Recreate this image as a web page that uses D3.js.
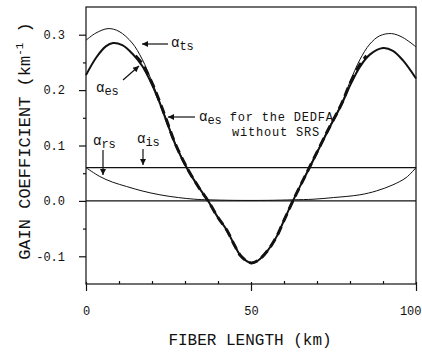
<!DOCTYPE html>
<html>
<head>
<meta charset="utf-8">
<script src="https://cdn.jsdelivr.net/npm/d3@7"></script>
<style>
  body { margin: 0; background: #fff; }
  text { font-family: "Liberation Mono", monospace; fill: #111; }
</style>
</head>
<body>
<svg id="chart" width="422" height="356"></svg>
<script>
// values (km, 1/km)
const tsKm  = [0, 3, 6.7, 10, 14, 17, 20, 22.4, 24.4, 27, 30.5, 34, 37, 40, 42.6, 45, 47, 50, 52, 55, 57.8, 60, 62.7, 65, 68, 73, 77.5, 80, 83, 86, 89, 92.6, 96, 100];
const tsVal = [0.290, 0.303, 0.311, 0.306, 0.285, 0.256, 0.215, 0.178, 0.146, 0.105, 0.062, 0.027, 0.0, -0.030, -0.052, -0.080, -0.100, -0.112, -0.108, -0.090, -0.064, -0.035, 0.0, 0.028, 0.065, 0.125, 0.177, 0.215, 0.255, 0.283, 0.298, 0.302, 0.295, 0.278];

const esKm  = [0, 3, 6, 8.2, 11, 14, 17, 20, 22.4, 24.4, 27, 30.5, 34, 37, 40, 42.6, 45, 47, 50, 52, 55, 57.8, 60, 62.7, 65, 68, 73, 77.5, 80, 83, 86, 90, 93, 96, 100];
const esVal = [0.227, 0.258, 0.279, 0.285, 0.281, 0.266, 0.244, 0.210, 0.176, 0.144, 0.103, 0.060, 0.026, 0.0, -0.030, -0.052, -0.080, -0.100, -0.112, -0.108, -0.090, -0.064, -0.035, 0.0, 0.028, 0.063, 0.123, 0.175, 0.208, 0.242, 0.264, 0.276, 0.271, 0.254, 0.221];

// alpha_es for the DEDFA without SRS (dashed)
const noSrsKm  = [15, 17, 20, 22.4, 24.4, 27, 30.5, 34, 37, 40, 42.6, 45, 47, 50, 52, 55, 57.8, 60, 62.7, 65, 68, 73, 77.5, 80, 83, 85];
const noSrsVal = [0.262, 0.248, 0.213, 0.178, 0.146, 0.104, 0.061, 0.026, 0.0, -0.030, -0.052, -0.080, -0.100, -0.112, -0.108, -0.090, -0.064, -0.035, 0.0, 0.028, 0.064, 0.124, 0.176, 0.212, 0.246, 0.262];

const rsKm  = [0, 4.2, 8, 12.3, 17, 22.4, 28, 33, 37, 45, 55, 63, 68.8, 75, 83, 88, 93, 97, 100];
const rsVal = [0.060, 0.044, 0.034, 0.026, 0.018, 0.011, 0.006, 0.003, 0.002, 0.001, 0.001, 0.002, 0.003, 0.006, 0.011, 0.018, 0.029, 0.042, 0.060];

const isKm  = [0, 100];
const isVal = [0.06, 0.06];

const zeroKm  = [0, 100];
const zeroVal = [0, 0];

const yMajor = [-0.1, 0.0, 0.1, 0.2, 0.3];
const yMinor = [-0.05, 0.05, 0.15, 0.25];
const xMajor = [0, 50, 100];
const xMinor = [10, 20, 30, 40, 60, 70, 80, 90];

const svg = d3.select('#chart');
const m = { left: 86, right: 416, top: 7, bottom: 284 };

const x = d3.scaleLinear().domain([0, 100]).range([m.left, m.right]);
const y = d3.scaleLinear().domain([-0.15, 0.35]).range([m.bottom, m.top]);

const zip = (a, b) => a.map((d, i) => [d, b[i]]);
const line = d3.line()
  .x(d => x(d[0]))
  .y(d => y(d[1]))
  .curve(d3.curveCatmullRom.alpha(0.5));

// frame
svg.append('rect')
  .attr('x', m.left).attr('y', m.top)
  .attr('width', m.right - m.left).attr('height', m.bottom - m.top)
  .attr('fill', 'none').attr('stroke', '#111').attr('stroke-width', 1.2);

// axes
const styleAxis = g => {
  g.attr('font-family', null).attr('font-size', null);
  g.select('.domain').remove();
  g.selectAll('line').attr('stroke', '#111').attr('stroke-width', 1.2);
};

svg.append('g')
  .attr('transform', `translate(${m.left},0)`)
  .call(d3.axisLeft(y).tickValues(yMajor).tickSize(7).tickPadding(14)
    .tickFormat(d => d.toFixed(1)))
  .call(styleAxis)
  .selectAll('text').attr('font-size', 12);

svg.append('g')
  .attr('transform', `translate(${m.left},0)`)
  .call(d3.axisLeft(y).tickValues(yMinor).tickSize(3).tickFormat(''))
  .call(styleAxis);

const xAx = svg.append('g')
  .attr('transform', `translate(0,${m.bottom})`)
  .call(d3.axisBottom(x).tickValues(xMajor).tickSize(7).tickPadding(15)
    .tickFormat(d3.format('d')))
  .call(styleAxis);
xAx.selectAll('line').attr('y1', -2);
xAx.selectAll('text').attr('font-size', 12);
// last label sits on the window edge: keep it inside
xAx.selectAll('text').filter(d => d === 100)
  .attr('text-anchor', 'end').attr('x', 5);

svg.append('g')
  .attr('transform', `translate(0,${m.bottom})`)
  .call(d3.axisBottom(x).tickValues(xMinor).tickSize(-3).tickFormat(''))
  .call(styleAxis);

// axis titles
svg.append('text')
  .attr('x', 250).attr('y', 345)
  .attr('text-anchor', 'middle')
  .attr('font-size', 16)
  .text('FIBER LENGTH (km)');

const yt = svg.append('text')
  .attr('transform', 'translate(30,141) rotate(-90)')
  .attr('text-anchor', 'middle')
  .attr('font-size', 17);
yt.append('tspan').text('GAIN COEFFICIENT (km');
yt.append('tspan').attr('font-size', 11).attr('dy', -7).text('-1');
yt.append('tspan').attr('dy', 7).text(' )');

// curves
const curves = [
  { pts: zip(zeroKm, zeroVal), w: 1.2 },
  { pts: zip(isKm, isVal), w: 1.2 },
  { pts: zip(rsKm, rsVal), w: 1 },
  { pts: zip(tsKm, tsVal), w: 1 },
  { pts: zip(esKm, esVal), w: 2 },
  { pts: zip(noSrsKm, noSrsVal), w: 3, dash: '9,5' }
];

svg.append('g').selectAll('path')
  .data(curves)
  .join('path')
  .attr('d', d => line(d.pts))
  .attr('fill', 'none')
  .attr('stroke', '#111')
  .attr('stroke-width', d => d.w)
  .attr('stroke-dasharray', d => d.dash || null);

// annotations
svg.append('defs').append('marker')
  .attr('id', 'head')
  .attr('viewBox', '0 0 10 10')
  .attr('refX', 10).attr('refY', 5)
  .attr('markerWidth', 8).attr('markerHeight', 6)
  .attr('markerUnits', 'userSpaceOnUse')
  .attr('orient', 'auto')
  .append('path').attr('d', 'M0,0L10,5L0,10Z').attr('fill', '#111');

const arrow = (x1, y1, x2, y2) => svg.append('line')
  .attr('x1', x1).attr('y1', y1).attr('x2', x2).attr('y2', y2)
  .attr('stroke', '#111').attr('stroke-width', 1.2)
  .attr('marker-end', 'url(#head)');

const alphaLabel = (px, py, sub, rest) => {
  const t = svg.append('text').attr('x', px).attr('y', py).attr('font-size', 14);
  t.append('tspan').text('α');
  t.append('tspan').attr('font-size', 12).attr('dy', 3).text(sub);
  if (rest) t.append('tspan').attr('dy', -3).attr('font-size', 12)
    .attr('letter-spacing', 0.8).text(rest);
  return t;
};

alphaLabel(171, 47, 'ts');
arrow(168, 44, 142, 44);

alphaLabel(96, 92, 'es');
arrow(123, 80, 139, 66);

alphaLabel(199, 121, 'es', ' for the DEDFA');
svg.append('text').attr('x', 232).attr('y', 136)
  .attr('font-size', 12).attr('letter-spacing', 0.8).text('without SRS');
arrow(195, 117, 168, 117);

alphaLabel(93, 145, 'rs');
arrow(103, 150, 103, 175);

alphaLabel(137, 143, 'is');
arrow(143, 149, 143, 165);
</script>
</body>
</html>
